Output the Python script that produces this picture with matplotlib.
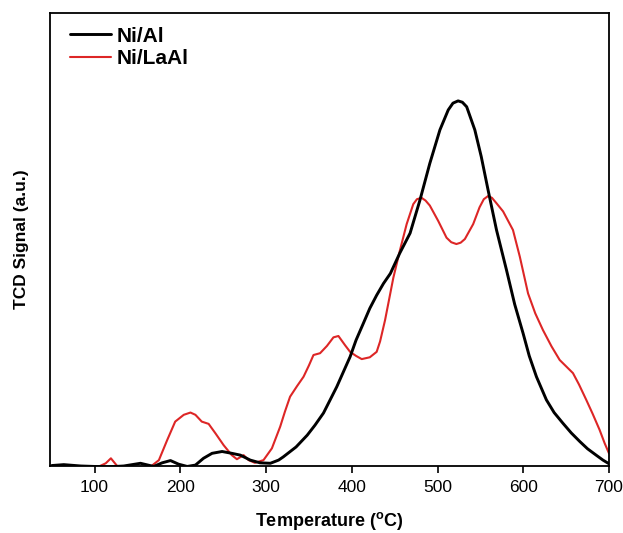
import matplotlib
matplotlib.use("Agg")
import matplotlib.pyplot as plt
import numpy as np

plt.rcParams['font.family'] = ['Liberation Sans', 'DejaVu Sans']
plt.rcParams['mathtext.fontset'] = 'custom'
plt.rcParams['mathtext.rm'] = 'Liberation Sans:bold'
plt.rcParams['mathtext.bf'] = 'Liberation Sans:bold'

# Ni/Al (black) temperature (°C) and TCD signal (a.u.)
nial_T = [50, 64, 84, 115, 134, 153.5, 169, 178.8, 188.5, 198, 208, 217.6, 227, 237, 248.7, 260,
          270, 281.6, 293, 305, 314.6, 320, 335, 348, 357, 367, 382.5, 390, 398, 405, 413.5, 421,
          429, 437, 445, 456, 468, 479.5, 491, 502.8, 512.5, 518, 524, 529, 534, 543.5, 551, 559,
          568.8, 580.4, 590, 599.8, 607, 615.4, 627, 636, 646, 656, 666, 675, 685, 693, 700]
nial_S = [0.001, 0.003, 0.000, -0.002, 0.000, 0.006, -0.001, 0.007, 0.012, 0.004, -0.001, 0.002,
          0.017, 0.028, 0.032, 0.028, 0.024, 0.013, 0.007, 0.006, 0.013, 0.020, 0.042, 0.068, 0.090,
          0.117, 0.175, 0.207, 0.241, 0.278, 0.315, 0.348, 0.377, 0.403, 0.425, 0.470, 0.514, 0.587,
          0.668, 0.742, 0.786, 0.801, 0.806, 0.803, 0.793, 0.742, 0.683, 0.609, 0.521, 0.433, 0.357,
          0.293, 0.243, 0.197, 0.146, 0.118, 0.095, 0.073, 0.054, 0.038, 0.024, 0.013, 0.005]

# Ni/LaAl (red)
nilaal_T = [96, 104, 113, 119, 128, 140, 155, 165, 175, 184.6, 194, 204, 211.8, 217.6, 225, 233,
            241, 250.5, 260, 266, 273.8, 279.6, 287, 297, 306.8, 316.5, 322, 328, 336, 343.7, 350,
            355.3, 363, 371, 378.6, 384.4, 392, 398, 405, 411.6, 421, 429, 433, 438.8, 448.4, 456,
            464, 471.7, 476, 481.4, 486, 491, 500.8, 510.5, 516, 522, 527, 531.9, 541.6, 549, 554,
            559, 563.5, 568.8, 576.5, 588, 596, 605.6, 614, 623, 633, 642.5, 650, 658, 665, 673.5,
            681, 689, 695, 700]
nilaal_S = [-0.005, -0.002, 0.006, 0.017, -0.004, -0.006, -0.006, -0.002, 0.013, 0.057, 0.098,
            0.113, 0.118, 0.113, 0.098, 0.093, 0.072, 0.046, 0.024, 0.015, 0.024, 0.013, 0.007,
            0.013, 0.039, 0.087, 0.120, 0.153, 0.176, 0.197, 0.222, 0.245, 0.249, 0.265, 0.284,
            0.287, 0.267, 0.252, 0.243, 0.236, 0.240, 0.252, 0.275, 0.322, 0.415, 0.475, 0.534,
            0.578, 0.589, 0.592, 0.586, 0.575, 0.541, 0.504, 0.494, 0.490, 0.493, 0.501, 0.534,
            0.571, 0.589, 0.596, 0.592, 0.580, 0.562, 0.521, 0.462, 0.381, 0.337, 0.300, 0.264,
            0.234, 0.220, 0.205, 0.180, 0.146, 0.115, 0.080, 0.050, 0.028]

fig = plt.figure(figsize=(6.23, 5.33), dpi=100)
ax = fig.add_axes([0.0803, 0.1257, 0.8972, 0.8499])

ax.plot(nial_T, nial_S, color='black', lw=2.1, label='Ni/Al', zorder=3,
        solid_joinstyle='round', solid_capstyle='round')
ax.plot(nilaal_T, nilaal_S, color='#dd2626', lw=1.5, label='Ni/LaAl', zorder=2,
        solid_joinstyle='round', solid_capstyle='round')

ax.set_xlim(48, 700)
ax.set_ylim(0, 1.0)
ax.set_xticks([100, 200, 300, 400, 500, 600, 700])
ax.set_yticks([])
ax.tick_params(axis='x', direction='out', length=5, width=1.2, labelsize=12.5, pad=5)
for s in ax.spines.values():
    s.set_linewidth(1.3)
    s.set_zorder(5)

ax.set_xlabel(r'Temperature ($^{\mathbf{o}}$C)', fontsize=13, fontweight='bold', labelpad=11)
ax.set_ylabel('TCD Signal (a.u.)', fontsize=12.5, fontweight='bold', labelpad=15)

leg = ax.legend(loc='upper left', bbox_to_anchor=(0.017, 0.993), frameon=False,
                prop={'weight': 'bold', 'size': 15}, handlelength=1.95, handletextpad=0.3,
                labelspacing=0.18, borderaxespad=0.1)

fig.savefig('out.png', dpi=100)
